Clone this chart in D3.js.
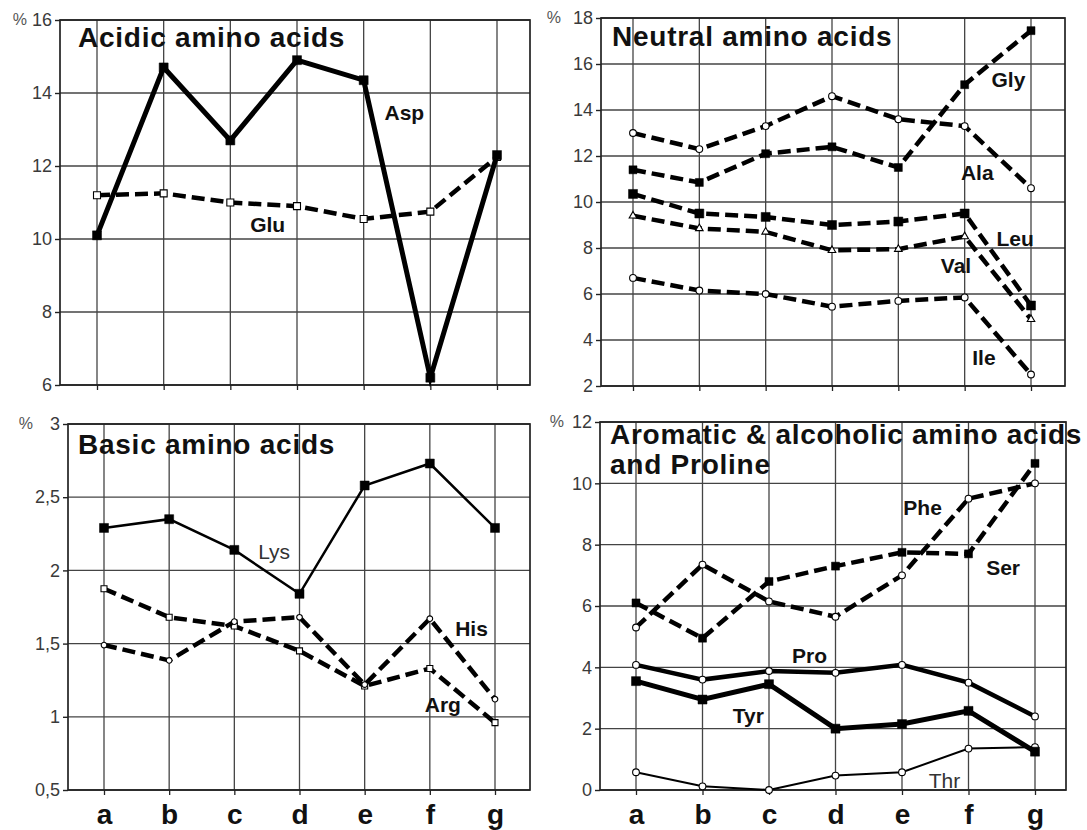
<!DOCTYPE html>
<html><head><meta charset="utf-8">
<script src="https://cdn.jsdelivr.net/npm/d3@7"></script>
<style>body{margin:0;background:#fff}svg{display:block}</style>
</head><body><svg id="c" width="1087" height="830"></svg>
<script>
// ---------- DATA ----------
const categories = ["a","b","c","d","e","f","g"];

const aspValues = [10.1,14.7,12.7,14.9,14.35,6.2,12.3];
const gluValues = [11.2,11.25,11.0,10.9,10.55,10.75,12.25];

const glyValues = [11.4,10.85,12.1,12.4,11.5,15.1,17.45];
const alaValues = [13.0,12.3,13.3,14.6,13.6,13.3,10.6];
const leuValues = [10.35,9.5,9.35,9.0,9.15,9.5,5.5];
const valValues = [9.4,8.85,8.7,7.9,7.95,8.5,4.9];
const ileValues = [6.7,6.15,6.0,5.45,5.7,5.85,2.5];

const lysValues = [2.29,2.35,2.14,1.84,2.58,2.73,2.29];
const hisValues = [1.49,1.385,1.65,1.68,1.22,1.67,1.12];
const argValues = [1.875,1.68,1.62,1.45,1.21,1.33,0.96];

const pheValues = [5.3,7.35,6.15,5.65,7.0,9.5,10.0];
const serValues = [6.1,4.95,6.8,7.3,7.75,7.7,10.65];
const proValues = [4.08,3.6,3.88,3.82,4.08,3.5,2.4];
const tyrValues = [3.55,2.95,3.45,2.0,2.15,2.58,1.25];
const thrValues = [0.58,0.12,0.0,0.47,0.58,1.35,1.4];

const acidicTicks = [6,8,10,12,14,16];
const acidicTickLabels = ["6","8","10","12","14","16"];
const neutralTicks = [2,4,6,8,10,12,14,16,18];
const neutralTickLabels = ["2","4","6","8","10","12","14","16","18"];
const basicTicks = [0.5,1,1.5,2,2.5,3];
const basicTickLabels = ["0,5","1","1,5","2","2,5","3"];
const aromaticTicks = [0,2,4,6,8,10,12];
const aromaticTickLabels = ["0","2","4","6","8","10","12"];

const titles = ["Acidic amino acids","Neutral amino acids","Basic amino acids",
                ["Aromatic & alcoholic amino acids","and Proline"]];

// series label anchors (category index, value)
const acidicLabels = [["Asp",4.61,13.47],["Glu",2.56,10.39]];
const neutralLabels = [["Gly",5.66,15.33],["Ala",5.19,11.27],["Leu",5.76,8.39],["Val",4.87,7.23],["Ile",5.29,3.24]];
const basicLabels = [["Lys",2.61,2.13],["His",5.64,1.60],["Arg",5.20,1.08]];
const aromaticLabels = [["Phe",4.31,9.2],["Ser",5.52,7.25],["Pro",2.61,4.39],["Tyr",1.69,2.44],["Thr",4.64,0.31]];

// ---------- LAYOUT ----------
const svg = d3.select("#c");
const FONT = "'Liberation Sans', Arial, Helvetica, sans-serif";

function drawPanel(cfg) {
  const g = svg.append("g");
  const f = cfg.frame;
  const x = d3.scalePoint().domain(categories).range(cfg.xRange);
  const y = d3.scaleLinear().domain([cfg.ticks[0], cfg.ticks[cfg.ticks.length-1]]).range([f.y1, f.y0]);

  // horizontal gridlines
  g.append("g").selectAll("line").data(cfg.ticks).join("line")
    .attr("x1", f.x0).attr("x2", f.x1)
    .attr("y1", d => y(d)).attr("y2", d => y(d))
    .attr("stroke", "#444").attr("stroke-width", 1.3);
  // vertical gridlines
  g.append("g").selectAll("line").data(categories).join("line")
    .attr("x1", d => x(d)).attr("x2", d => x(d))
    .attr("y1", f.y0).attr("y2", f.y1)
    .attr("stroke", "#444").attr("stroke-width", 1.3);
  // frame
  g.append("rect").attr("x", f.x0).attr("y", f.y0)
    .attr("width", f.x1 - f.x0).attr("height", f.y1 - f.y0)
    .attr("fill", "none").attr("stroke", "#222").attr("stroke-width", 1.7);

  // y axis
  const yAxis = d3.axisLeft(y).tickValues(cfg.ticks)
    .tickFormat((d, i) => cfg.tickLabels[i]).tickSize(5).tickPadding(3);
  const ya = g.append("g").attr("transform", `translate(${f.x0},0)`).call(yAxis);
  ya.select(".domain").remove();
  ya.selectAll("line").attr("stroke", "#222").attr("stroke-width", 1.4);
  ya.selectAll("text").attr("font-family", FONT).attr("font-size", 18).attr("fill", "#3a3a3a");
  g.append("text").attr("x", f.x0 - cfg.pctOffset).attr("y", y(cfg.ticks[cfg.ticks.length-1]))
    .attr("dy", "0.32em").attr("text-anchor", "end")
    .attr("font-family", FONT).attr("font-size", 16).attr("fill", "#555").text("%");

  // x axis
  const xAxis = d3.axisBottom(x).tickSize(5).tickPadding(9);
  const xa = g.append("g").attr("transform", `translate(0,${f.y1})`).call(xAxis);
  xa.select(".domain").remove();
  xa.selectAll("line").attr("stroke", "#222").attr("stroke-width", 1.3);
  if (cfg.showX) {
    xa.selectAll("text").attr("font-family", FONT).attr("font-size", 28)
      .attr("font-weight", "bold").attr("fill", "#111");
  } else {
    xa.selectAll("text").remove();
  }

  // title
  const tl = [].concat(cfg.title);
  g.append("text").attr("font-family", FONT).attr("font-size", 28).attr("font-weight", "bold")
    .attr("fill", "#111").attr("letter-spacing", 0.75)
    .selectAll("tspan").data(tl).join("tspan")
    .attr("x", f.x0 + cfg.titleDx).attr("y", (d, i) => f.y0 + cfg.titleDy + i * 30)
    .text(d => d);

  // series
  const line = d3.line().x((d, i) => x(categories[i])).y(d => y(d));
  cfg.series.forEach(s => {
    g.append("path").datum(s.values).attr("d", line)
      .attr("fill", "none").attr("stroke", "#000").attr("stroke-width", s.width)
      .attr("stroke-dasharray", s.dash || null).attr("stroke-linejoin", "miter");
    const sym = d3.symbol().type(s.marker === "tri" ? d3.symbolTriangle :
                 s.marker === "circ" ? d3.symbolCircle : d3.symbolSquare).size(s.msize * s.msize);
    g.append("g").selectAll("path").data(s.values).join("path")
      .attr("transform", (d, i) => `translate(${x(categories[i])},${y(d)})`)
      .attr("d", sym)
      .attr("fill", s.open ? "#fff" : "#000")
      .attr("stroke", "#000").attr("stroke-width", s.open ? 1.1 : 0.5);
  });

  // series labels
  const step = x.step();
  g.append("g").selectAll("text").data(cfg.labels).join("text")
    .attr("x", d => x(categories[0]) + d[1] * step)
    .attr("y", d => y(d[2])).attr("dy", "0.35em").attr("text-anchor", "middle")
    .attr("font-family", FONT).attr("font-size", 21)
    .attr("font-weight", d => (cfg.lightLabels || []).includes(d[0]) ? "normal" : "bold")
    .attr("fill", d => (cfg.lightLabels || []).includes(d[0]) ? "#333" : "#111")
    .text(d => d[0]);
}

drawPanel({
  frame: {x0: 60, x1: 530, y0: 20, y1: 385}, xRange: [97, 497],
  ticks: acidicTicks, tickLabels: acidicTickLabels, pctOffset: 33,
  title: titles[0], titleDx: 18, titleDy: 27, showX: false,
  series: [
    {values: gluValues, dash: "13,6", width: 4.5, marker: "sq", open: true, msize: 7},
    {values: aspValues, dash: null, width: 5, marker: "sq", open: false, msize: 9}
  ],
  labels: acidicLabels
});

drawPanel({
  frame: {x0: 601, x1: 1065, y0: 18, y1: 386}, xRange: [633, 1031],
  ticks: neutralTicks, tickLabels: neutralTickLabels, pctOffset: 40,
  title: titles[1], titleDx: 11, titleDy: 28, showX: false,
  series: [
    {values: ileValues, dash: "13,6", width: 4.5, marker: "circ", open: true, msize: 6},
    {values: valValues, dash: "13,6", width: 4.5, marker: "tri", open: true, msize: 5},
    {values: leuValues, dash: "13,6", width: 4.5, marker: "sq", open: false, msize: 9},
    {values: alaValues, dash: "13,6", width: 4.5, marker: "circ", open: true, msize: 6},
    {values: glyValues, dash: "13,6", width: 4.5, marker: "sq", open: false, msize: 8}
  ],
  labels: neutralLabels
});

drawPanel({
  frame: {x0: 68, x1: 530, y0: 424, y1: 790}, xRange: [104, 495],
  ticks: basicTicks, tickLabels: basicTickLabels, pctOffset: 35,
  title: titles[2], titleDx: 10, titleDy: 30, showX: true,
  series: [
    {values: argValues, dash: "13,6", width: 4.5, marker: "sq", open: true, msize: 6},
    {values: hisValues, dash: "13,6", width: 4.5, marker: "circ", open: true, msize: 5},
    {values: lysValues, dash: null, width: 2.5, marker: "sq", open: false, msize: 9}
  ],
  labels: basicLabels, lightLabels: ["Lys"]
});

drawPanel({
  frame: {x0: 600, x1: 1066, y0: 422, y1: 790}, xRange: [636, 1035],
  ticks: aromaticTicks, tickLabels: aromaticTickLabels, pctOffset: 36,
  title: titles[3], titleDx: 10, titleDy: 22, showX: true,
  series: [
    {values: thrValues, dash: null, width: 2, marker: "circ", open: true, msize: 6},
    {values: proValues, dash: null, width: 4.5, marker: "circ", open: true, msize: 6},
    {values: tyrValues, dash: null, width: 5, marker: "sq", open: false, msize: 9},
    {values: pheValues, dash: "13,6", width: 4.5, marker: "circ", open: true, msize: 6},
    {values: serValues, dash: "13,6", width: 4.5, marker: "sq", open: false, msize: 8}
  ],
  labels: aromaticLabels, lightLabels: ["Thr"]
});
</script>
</body></html>
